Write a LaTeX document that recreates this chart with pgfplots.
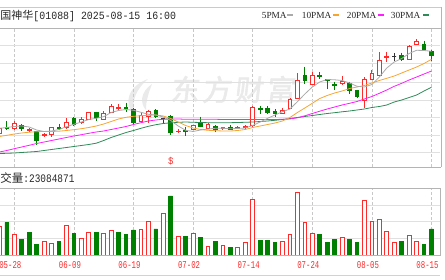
\documentclass[border=0pt]{standalone}
\usepackage{fontspec}
\usepackage{pgfplots}
\usepackage{pgfplotstable}
\usepgfplotslibrary{statistics}
\pgfplotsset{compat=1.18}
\newfontfamily\cjk{Noto Sans CJK SC}
\newfontfamily\wmfont[FakeSlant=0.12,FakeBold=2,LetterSpace=10]{Noto Sans CJK SC}
\newfontfamily\titlemono[FakeStretch=0.9]{Liberation Mono}
\newfontfamily\datemono[FakeStretch=0.7]{Liberation Mono}
\newfontfamily\volmono[FakeStretch=0.82]{Liberation Mono}
\newfontfamily\legserif{Liberation Serif}

\definecolor{upred}{HTML}{FF2A2A}
\definecolor{downgreen}{HTML}{008000}
\definecolor{ma5c}{HTML}{AAAAAA}
\definecolor{ma10c}{HTML}{F7A531}
\definecolor{ma20c}{HTML}{FF1CFF}
\definecolor{ma30c}{HTML}{2E8B57}
\definecolor{framec}{HTML}{B4B4B4}
\definecolor{gridc}{HTML}{E0E0E0}
\definecolor{vgridc}{HTML}{C8C8C8}
\definecolor{wmc}{HTML}{EAEAEA}

% i open high low close volume(M) volcolour(1=up) MA5 MA10 MA20 MA30
\pgfplotstableread{
i o h l c v vc m5 m10 m20 m30
0 16.67 17.30 16.60 17.17 25.1 1 17.17 16.35 14.80 14.65
1 17.25 17.90 17.00 17.15 29.0 0 17.25 16.47 14.95 14.67
2 17.17 17.90 17.00 17.67 18.6 1 17.35 16.60 15.13 14.70
3 17.50 17.57 16.93 17.17 13.6 0 17.40 16.70 15.30 14.75
4 16.95 17.17 16.83 17.05 20.4 0 17.30 16.78 15.47 14.80
5 16.83 16.90 15.50 16.00 9.1 0 17.00 16.83 15.65 14.85
6 16.45 16.73 16.27 16.55 12.4 1 16.85 16.85 15.80 14.95
7 16.60 17.33 16.27 17.23 10.0 1 16.90 16.85 15.95 15.05
8 17.27 17.60 17.00 17.20 12.4 0 17.05 16.88 16.10 15.15
9 17.23 18.17 17.10 17.77 26.4 1 17.33 16.95 16.25 15.25
10 18.17 18.27 17.40 17.60 19.5 0 17.57 17.03 16.40 15.35
11 17.73 18.27 17.60 18.07 14.5 1 17.80 17.13 16.53 15.45
12 18.10 18.83 18.00 18.73 20.4 1 18.05 17.25 16.67 15.55
13 18.77 18.83 17.93 18.23 20.4 0 18.17 17.40 16.80 15.68
14 18.10 18.93 18.00 18.67 19.5 1 18.33 17.60 16.90 15.95
15 18.77 19.60 18.73 19.40 22.2 1 18.75 17.85 17.05 16.25
16 19.18 19.57 18.93 19.28 20.4 0 18.95 18.10 17.20 16.50
17 19.28 19.73 18.83 19.18 18.6 0 19.05 18.27 17.35 16.75
18 19.10 19.23 17.57 17.77 22.2 0 18.97 18.37 17.55 16.95
19 17.83 18.67 17.67 18.43 23.1 1 18.77 18.43 17.73 17.17
20 18.33 19.00 17.67 18.83 29.6 1 18.57 18.48 17.90 17.37
21 18.93 19.07 18.17 18.33 23.1 0 18.50 18.50 18.00 17.53
22 18.17 18.17 17.60 18.17 37.0 1 18.30 18.40 18.07 17.65
23 18.40 18.50 16.50 16.73 52.4 0 17.95 18.15 18.10 17.72
24 16.82 17.07 16.70 16.88 16.9 1 17.40 17.80 18.10 17.77
25 16.93 17.33 16.40 16.87 16.3 0 16.97 17.45 18.07 17.80
26 17.05 17.50 17.00 17.42 19.5 1 16.85 17.20 18.07 17.77
27 17.73 18.33 17.27 17.40 15.4 0 17.00 17.05 18.07 17.75
28 17.17 17.67 17.07 17.55 7.7 1 17.10 16.97 18.07 17.73
29 17.33 17.50 16.83 17.10 11.8 0 17.17 16.93 18.07 17.73
30 17.20 17.27 17.00 17.27 8.6 1 17.17 16.90 18.05 17.73
31 17.27 17.50 17.00 17.07 6.8 0 17.12 16.90 18.05 17.73
32 17.17 17.40 17.05 17.25 6.8 1 17.15 16.95 18.05 17.75
33 17.25 17.45 17.10 17.35 10.7 1 17.20 17.05 18.05 17.77
34 17.43 19.40 17.27 19.30 49.7 1 17.45 17.25 18.05 17.80
35 19.20 19.40 18.60 19.10 12.7 0 17.80 17.40 18.05 17.85
36 19.17 19.40 18.60 18.73 12.7 0 18.17 17.55 18.05 17.90
37 18.90 19.07 18.30 18.67 10.9 0 18.50 17.70 18.05 17.97
38 18.70 19.17 18.60 19.00 11.8 1 18.83 17.90 18.07 18.05
39 19.17 20.17 19.07 20.07 17.8 1 19.10 18.25 18.10 18.15
40 20.17 22.67 20.07 22.00 55.7 1 19.83 18.75 18.22 18.25
41 22.45 23.33 21.60 21.97 29.0 1 20.60 19.20 18.42 18.35
42 21.60 22.80 21.50 22.50 19.3 1 21.30 19.67 18.65 18.45
43 22.45 22.80 22.10 22.35 17.8 0 21.80 20.15 18.88 18.55
44 22.05 22.07 21.07 21.95 10.9 0 22.05 20.45 19.10 18.65
45 21.55 21.83 21.00 21.45 13.6 0 22.02 20.70 19.30 18.73
46 21.67 22.37 21.50 21.83 16.0 1 21.95 20.90 19.50 18.82
47 21.67 21.83 20.60 21.00 14.2 0 21.70 21.15 19.67 18.90
48 20.93 21.00 20.17 20.40 10.9 0 21.37 21.30 19.85 19.00
49 19.95 22.33 19.17 22.07 48.8 1 21.30 21.45 20.10 19.10
50 22.07 23.00 22.00 22.67 29.6 1 21.55 21.70 20.35 19.25
51 22.50 24.83 22.40 23.93 31.7 1 22.30 21.95 20.67 19.35
52 24.28 24.80 23.80 24.38 21.0 1 23.20 22.17 21.00 19.50
53 24.33 24.73 23.93 24.33 11.5 1 23.80 22.40 21.37 19.80
54 24.50 24.73 23.93 24.10 12.4 0 24.15 22.70 21.67 20.00
55 24.07 25.50 24.00 25.40 17.5 1 24.65 23.00 22.00 20.25
56 25.60 26.07 25.60 25.83 12.4 1 24.97 23.30 22.30 20.50
57 25.60 25.93 24.93 25.03 9.1 0 24.95 23.65 22.60 20.90
58 24.90 25.00 23.93 24.50 23.1 0 24.87 24.07 22.90 21.27
}\data

\pgfplotsset{
  upc/.style={draw=upred, fill=white, line width=0.9pt},
  downc/.style={draw=downgreen, fill=downgreen, line width=0.9pt},
  flatc/.style={draw=black!80, line width=0.9pt},
}

\begin{document}
\begin{tikzpicture}[x=1pt,y=1pt]
\useasboundingbox (0,0) rectangle (445,280);
% watermark
\fill[wmc] (148,201) .. controls (128,194) and (123,176) .. (134,166) .. controls (131,179) and (137,192) .. (148,201) -- cycle;
\fill[wmc] (152,196) .. controls (140,188) and (140,176) .. (146,170) .. controls (146,180) and (149,188) .. (152,196) -- cycle;
\node[text=wmc, inner sep=0] at (232.5,190.5) {\wmfont\fontsize{29}{30}\selectfont 东方财富};

\begin{axis}[
  at={(0pt,113pt)}, anchor=south west, scale only axis,
  width=440pt, height=138.5pt,
  xmin=0.0805, xmax=59.14, ymin=13.3, ymax=27.15,
  axis line style={draw=none}, major tick length=0pt,
  xtick={2,10,18,26,34,42,50,58},
  ytick={14.8,16.5,18.3,20,21.8,23.7,25.5},
  xticklabels={}, yticklabels={},
  xmajorgrids, ymajorgrids,
  x grid style={vgridc, line width=0.8pt, dash pattern=on 2.5pt off 2.5pt},
  y grid style={gridc, line width=0.9pt},
  boxplot/draw direction=y, boxplot/box extend=0.5, boxplot/whisker extend=0,
]
\pgfplotsinvokeforeach{0,...,58}{%
  \pgfplotstablegetelem{#1}{o}\of\data\let\vo\pgfplotsretval
  \pgfplotstablegetelem{#1}{h}\of\data\let\vh\pgfplotsretval
  \pgfplotstablegetelem{#1}{l}\of\data\let\vl\pgfplotsretval
  \pgfplotstablegetelem{#1}{c}\of\data\let\vc\pgfplotsretval
  \ifdim\vc pt>\vo pt
    \def\candlestyle{upc}\let\qlo\vo\let\qhi\vc
  \else\ifdim\vc pt<\vo pt
    \def\candlestyle{downc}\let\qlo\vc\let\qhi\vo
  \else
    \def\candlestyle{flatc}\let\qlo\vo\let\qhi\vc
  \fi\fi
  \edef\next{\noexpand\addplot[\candlestyle, boxplot prepared={draw position=#1, lower whisker=\vl, lower quartile=\qlo, median=\qlo, upper quartile=\qhi, upper whisker=\vh}] coordinates {};}%
  \next
}
\addplot[ma30c, line width=0.8pt] table[x=i,y=m30]{\data};
\addplot[ma20c, line width=0.8pt] table[x=i,y=m20]{\data};
\addplot[ma10c, line width=0.8pt] table[x=i,y=m10]{\data};
\addplot[ma5c, line width=0.8pt] table[x=i,y=m5]{\data};
\node[text=upred, inner sep=0] at (axis cs:23,13.9) {\titlemono\fontsize{10}{12}\selectfont\$};
\end{axis}

\begin{axis}[
  at={(0pt,25pt)}, anchor=south west, scale only axis,
  width=440pt, height=67pt,
  xmin=0.0805, xmax=59.14, ymin=0, ymax=59.5,
  axis line style={draw=none}, major tick length=0pt,
  xtick={2,10,18,26,34,42,50,58},
  xticklabels={05-28,06-09,06-19,07-02,07-14,07-24,08-05,08-15},
  xticklabel style={font=\datemono\fontsize{10.5}{12}\selectfont, text=upred, anchor=base, yshift=-13.3pt, xshift=-4pt},
  ytick={14.8,29.6,44.4}, yticklabels={},
  xmajorgrids, ymajorgrids,
  x grid style={vgridc, line width=0.8pt, dash pattern=on 2.5pt off 2.5pt},
  y grid style={gridc, line width=0.9pt},
]
\addplot[ybar, bar width=0.5, bar shift=0pt, draw=upred, fill=white, line width=0.9pt,
  restrict expr to domain={\thisrow{vc}}{0.5:1.5}] table[x=i,y=v]{\data};
\addplot[ybar, bar width=0.5, bar shift=0pt, draw=downgreen, fill=downgreen, line width=0.9pt,
  restrict expr to domain={\thisrow{vc}}{-0.5:0.5}] table[x=i,y=v]{\data};
\end{axis}

% frames
\draw[framec!70, line width=0.9pt] (0,273) -- (441,273);
\draw[framec, line width=0.9pt] (0,251.5) -- (441,251.5);
\draw[framec, line width=0.9pt] (0,113) -- (441,113);
\draw[framec, line width=0.9pt] (441,273) -- (441,113);
\draw[framec, line width=0.9pt] (0,92) -- (440,92) -- (440,25) -- (0,25);
\draw[framec!60, line width=0.9pt] (0,5) -- (440,5);

% header texts
\node[anchor=base west, inner sep=0, text=black!85] at (0.3,260) {\cjk\fontsize{11}{13}\selectfont 国神华\titlemono [01088] 2025-08-15 16:00};
\node[anchor=base west, inner sep=0, text=black!85] at (0.3,97.7) {\cjk\fontsize{11.5}{13}\selectfont 交量\volmono :23084871};

% legend
\node[anchor=base west, inner sep=0, text=black!85] at (261.7,261.7) {\legserif\fontsize{9.3}{11}\selectfont 5PMA};
\fill[ma5c] (286.7,264) rectangle (293.3,266);
\node[anchor=base west, inner sep=0, text=black!85] at (301.7,261.7) {\legserif\fontsize{9.3}{11}\selectfont 10PMA};
\fill[ma10c] (333.3,264) rectangle (339.3,266);
\node[anchor=base west, inner sep=0, text=black!85] at (346.7,261.7) {\legserif\fontsize{9.3}{11}\selectfont 20PMA};
\fill[ma20c] (378,264) rectangle (384.3,266);
\node[anchor=base west, inner sep=0, text=black!85] at (390.7,261.7) {\legserif\fontsize{9.3}{11}\selectfont 30PMA};
\fill[ma30c] (422.7,264) rectangle (429.3,266);
\end{tikzpicture}
\end{document}
